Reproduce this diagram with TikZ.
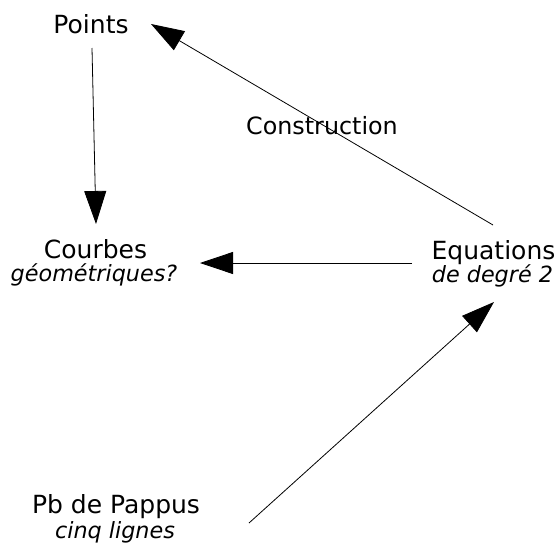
\documentclass[tikz,border=0pt]{standalone}
\usepackage{fontspec}
\setmainfont{DejaVu Sans}
\usetikzlibrary{arrows.meta,calc}
\begin{document}
\begin{tikzpicture}[x=1pt,y=-1pt,
  lbl/.style={inner sep=0pt,anchor=base,font=\fontsize{25}{30}\selectfont},
  sub/.style={inner sep=0pt,anchor=base,font=\fontsize{22.3}{26}\selectfont\itshape},
  arr/.style={line width=0.8pt,-{Triangle[length=33pt,width=22pt]}}]
\useasboundingbox (0,0) rectangle (558,544);
\node[lbl] (points) at (91,33) {Points};
\node[lbl] (courbes) at (95.5,258) {Courbes};
\node[sub] (geom) at (94,281) {géométriques?};
\node[lbl] (equations) at (493.5,259) {Equations};
\node[sub] (degre) at (492.5,282) {de degré 2};
\node[lbl] (pappus) at (116,513) {Pb de Pappus};
\node[sub] (cinq) at (115,538) {cinq lignes};
\node[lbl,font=\fontsize{23.8}{28}\selectfont] (constr) at (322,134) {Construction};
\draw[arr] ($(points.base)+(1,15)$) -- ($(courbes.base)+(0.5,-34)$);
\draw[arr] ($(equations.base)+(-81.5,4)$) -- ($(courbes.base)+(104.5,5)$);
\draw[arr] ($(equations.base)+(-0.5,-34)$) -- ($(points.base)+(60,-9)$);
\draw[arr] ($(pappus.base)+(133,10)$) -- ($(degre.base)+(1.5,20)$);
\end{tikzpicture}
\end{document}
